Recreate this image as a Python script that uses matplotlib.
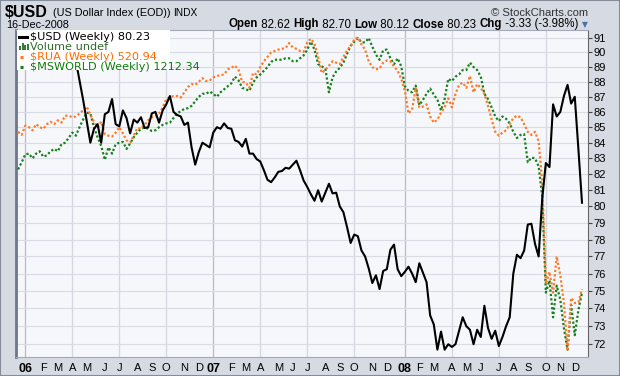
import matplotlib
matplotlib.use("Agg")
import matplotlib.pyplot as plt
import numpy as np
import pandas as pd
from matplotlib.lines import Line2D
from matplotlib.patches import Rectangle
from matplotlib.ticker import FixedLocator, NullLocator, FuncFormatter


FIRST_WEEK = "2005-12-23"

# $USD weekly close (first weeks sit behind the legend)
USD_CLOSE = [
    90.6, 91.0, 89.6, 89.9, 89.4, 89.8, 90.4, 90.9, 90.6, 90.3,
    89.7, 90.3, 89.6, 90.0, 89.6, 89.7, 89.4, 88.1, 86.8, 85.4,
    84.0, 84.9, 85.2, 84.0, 85.85, 86.0, 86.85, 85.2, 85.05, 86.1,
    85.6, 84.6, 85.5, 85.3, 85.65, 84.95, 85.0, 85.9, 86.0, 85.3,
    86.1, 86.5, 87.05, 86.0, 85.8, 85.7, 85.15, 85.3, 83.7, 82.6,
    83.4, 84.0, 83.85, 83.7, 84.65, 85.0, 84.9, 85.25, 84.95, 84.9,
    84.15, 84.05, 83.75, 84.25, 83.3, 83.3, 82.95, 82.8, 82.25, 81.65,
    81.5, 81.8, 82.15, 82.2, 82.4, 82.35, 82.6, 82.85, 82.25, 81.6,
    81.2, 80.75, 80.35, 81.0, 80.3, 80.85, 81.4, 80.8, 80.85, 80.0,
    79.65, 78.75, 77.8, 78.3, 78.2, 77.35, 77.0, 76.3, 75.45, 75.9,
    75.1, 76.15, 76.25, 77.4, 77.7, 76.25, 75.85, 76.1, 76.4, 76.0,
    75.5, 76.6, 76.05, 75.5, 73.6, 73.1, 71.7, 72.7, 71.7, 72.0,
    71.85, 72.0, 72.75, 73.5, 73.0, 72.8, 72.0, 72.8, 72.4, 74.15,
    72.9, 72.3, 72.75, 71.9, 72.4, 73.0, 73.5, 76.0, 77.1, 76.9,
    77.35, 78.9, 78.95, 77.75, 77.0, 80.5, 82.7, 82.45, 86.5, 85.7,
    86.0, 87.05, 87.8, 86.55, 87.0, 83.6, 80.23,
]

RUA_SCALED = [
    84.7, 84.5, 85.1, 85.0, 84.8, 85.2, 85.0, 84.9, 85.2, 85.35,
    85.2, 85.45, 85.3, 85.75, 85.75, 85.65, 85.7, 85.9, 86.1, 86.35,
    85.8, 85.35, 85.0, 85.35, 84.55, 84.45, 84.4, 84.65, 85.0, 84.6,
    84.15, 84.0, 84.45, 84.95, 84.9, 85.15, 85.45, 85.65, 85.7, 85.9,
    86.3, 86.85, 86.95, 87.05, 87.05, 86.95, 87.3, 87.65, 87.85, 87.8,
    88.0, 88.25, 88.05, 88.1, 88.3, 88.4, 88.45, 88.5, 88.85, 88.95,
    89.1, 88.8, 88.0, 87.95, 87.6, 88.6, 88.5, 89.0, 89.4, 89.7,
    90.0, 90.1, 90.2, 90.25, 90.3, 90.65, 90.35, 90.25, 90.1, 90.05,
    90.7, 90.95, 90.6, 89.7, 88.6, 88.8, 89.1, 89.4, 89.3, 89.2,
    89.7, 90.15, 90.45, 90.9, 91.05, 90.55, 90.2, 89.4, 89.0, 88.85,
    88.9, 89.3, 89.45, 89.4, 89.05, 88.75, 88.2, 87.4, 85.9, 86.15,
    87.6, 86.3, 86.35, 86.5, 85.7, 85.3, 85.5, 85.95, 86.3, 86.9,
    86.3, 87.2, 87.8, 87.95, 87.6, 88.4, 87.3, 87.85, 87.6, 87.2,
    86.4, 85.5, 84.7, 84.45, 84.65, 84.8, 85.2, 85.6, 85.75, 85.65,
    85.2, 84.7, 84.5, 84.7, 84.1, 81.5, 75.4, 76.1, 74.9, 77.0,
    75.9, 74.3, 71.65, 74.6, 74.3, 74.35, 75.1,
]

MSWORLD_SCALED = [
    82.3, 82.75, 83.25, 83.3, 83.0, 83.3, 83.45, 83.1, 83.2, 83.45,
    83.6, 83.45, 83.9, 84.0, 84.3, 84.65, 84.45, 85.0, 85.5, 85.95,
    85.9, 85.0, 84.35, 83.8, 82.9, 83.7, 83.3, 83.9, 84.0, 84.05,
    83.6, 83.95, 84.35, 84.65, 84.9, 85.0, 84.9, 84.75, 84.8, 85.0,
    85.15, 85.25, 85.3, 85.6, 85.9, 86.05, 86.2, 86.25, 86.4, 86.7,
    87.0, 87.2, 87.2, 87.35, 87.2, 87.0, 87.3, 87.5, 87.7, 87.9,
    88.35, 88.1, 87.6, 87.5, 87.4, 87.95, 88.3, 88.5, 88.75, 89.0,
    89.35, 89.5, 89.5, 89.5, 89.6, 89.6, 89.4, 89.4, 89.6, 89.8,
    90.2, 90.75, 90.2, 89.2, 89.05, 88.9, 87.3, 88.3, 88.7, 88.95,
    89.3, 89.9, 90.45, 90.75, 91.0, 90.7, 90.7, 91.0, 90.4, 89.85,
    89.5, 90.15, 90.2, 89.6, 89.2, 89.6, 89.05, 87.7, 87.4, 87.3,
    87.75, 86.45, 86.8, 87.2, 87.55, 87.15, 86.8, 86.1, 86.85, 88.2,
    88.05, 88.35, 88.5, 88.8, 88.8, 89.3, 89.0, 88.8, 88.35, 87.2,
    86.85, 86.3, 85.7, 85.4, 85.7, 85.55, 85.25, 84.7, 84.3, 84.5,
    84.55, 82.75, 83.05, 83.0, 82.5, 80.6, 74.9, 75.6, 73.5, 75.3,
    74.5, 72.9, 71.7, 74.2, 72.5, 73.9, 74.9,
]

Y_TICKS = list(range(72, 92))
MONTH_LETTERS = ["J", "F", "M", "A", "M", "J", "J", "A", "S", "O", "N", "D"]

LEGEND_ROWS = [
    ("$USD (Weekly) 80.23", "#000000"),
    ("Volume undef", "#2f6b2f"),
    ("$RUA (Weekly) 520.94", "#ff6a00"),
    ("$MSWORLD (Weekly) 1212.34", "#0c7a0c"),
]
QUOTE_PARTS = [
    ("Open", True), (" 82.62 ", False), ("High", True), (" 82.70 ", False),
    ("Low", True), (" 80.12 ", False), ("Close", True), (" 80.23 ", False),
    ("Chg", True), (" -3.33 (-3.98%)", False),
]

W, H = 620, 376
USD_COLOR = "#000000"
RUA_COLOR = "#ff7a26"
MSW_COLOR = "#17801a"
SANS = "Liberation Sans"


def fx(px):
    return px / W


def fy(py):
    return 1 - py / H


def month_starts(weeks):
    # first week whose Monday falls in the month
    mondays = weeks - pd.Timedelta(days=4)
    df = pd.DataFrame({"i": np.arange(len(weeks)), "y": mondays.year, "m": mondays.month})
    df = df[df["y"] >= 2006]
    return df.groupby(["y", "m"])["i"].min().reset_index()


def add_quote_line(fig, right_px, base_px):
    pieces = [fig.text(0, fy(base_px), text, fontsize=8.3, family=SANS, va="baseline",
                       fontweight="bold" if bold else "normal")
              for text, bold in QUOTE_PARTS]
    fig.canvas.draw()
    renderer = fig.canvas.get_renderer()
    widths = [t.get_window_extent(renderer).width for t in pieces]
    cur = right_px - sum(widths)
    for t, w in zip(pieces, widths):
        t.set_x(fx(cur))
        cur += w


def main():
    weeks = pd.date_range(FIRST_WEEK, periods=len(USD_CLOSE), freq="W-FRI")
    x = np.arange(len(weeks))

    fig = plt.figure(figsize=(W / 100, H / 100), dpi=100, facecolor="#d5dae3")
    fig.add_artist(Rectangle((0, 0), 1, 1, transform=fig.transFigure, facecolor="none",
                             edgecolor="#858c99", lw=1.5, zorder=0))

    ax = fig.add_axes([fx(16), fy(357), (588 - 16) / W, (357 - 30) / H])
    ax.set_facecolor("#f5f7fb")

    ax.plot(x, MSWORLD_SCALED, color=MSW_COLOR, lw=1.6, ls=(0, (1, 1)), zorder=3)
    ax.plot(x, RUA_SCALED, color=RUA_COLOR, lw=1.6, ls=(0, (1, 1)), zorder=3)
    ax.plot(x, USD_CLOSE, color=USD_COLOR, lw=1.5, zorder=4)

    ax.set_yscale("log")
    ax.set_ylim(71.3, 91.56)
    ax.set_xlim(-0.57, 157.66)

    ax.yaxis.set_major_locator(FixedLocator(Y_TICKS))
    ax.yaxis.set_minor_locator(NullLocator())
    ax.yaxis.set_major_formatter(FuncFormatter(lambda v, p: f"{v:.0f}"))
    ax.yaxis.tick_right()
    ax.tick_params(axis="y", length=3, width=0.8, color="#444444", pad=1, labelsize=8)
    ax.yaxis.grid(True, color="#d9dce4", lw=0.8)

    starts = month_starts(weeks)
    labels = []
    for _, row in starts.iterrows():
        if row["m"] == 1:
            labels.append(f"{row['y'] % 100:02d}")
        else:
            labels.append(MONTH_LETTERS[row["m"] - 1])
        if row["m"] in (1, 4, 7, 10):
            col = "#b7bbc4" if row["m"] == 1 else "#d4d7df"
            ax.axvline(row["i"], color=col, lw=0.9, zorder=1)
    ax.set_xticks(starts["i"].to_numpy())
    ax.set_xticklabels(labels)
    ax.tick_params(axis="x", length=0, pad=4, labelsize=8)
    for lbl, m in zip(ax.get_xticklabels(), starts["m"]):
        lbl.set_family(SANS)
        if m == 1:
            lbl.set_fontweight("bold")
            lbl.set_fontsize(9)
    for lbl in ax.get_yticklabels():
        lbl.set_family(SANS)

    for side in ("top", "bottom"):
        ax.spines[side].set_color("#a3a9b5")
        ax.spines[side].set_linewidth(0.8)
    ax.spines["left"].set_color("#6f7788")
    ax.spines["left"].set_linewidth(2.0)
    ax.spines["right"].set_color("#666666")
    ax.spines["right"].set_linestyle((0, (1, 1)))
    ax.spines["right"].set_linewidth(0.8)

    # legend block drawn in pixel positions
    fig.add_artist(Rectangle((fx(16.5), fy(70)), (170 - 16.5) / W, 39.5 / H,
                             transform=fig.transFigure, facecolor="white",
                             edgecolor="none", zorder=5))
    row_y = [36.5, 46.5, 56.5, 66.5]
    for (label, col), yy in zip(LEGEND_ROWS, row_y):
        fig.text(fx(30.5), fy(yy), label, color=col, fontsize=8.1, va="center",
                 family="DejaVu Sans", zorder=7)
    fig.add_artist(Line2D([fx(19.5), fx(27)], [fy(36.5)] * 2, color=USD_COLOR, lw=2.2, zorder=6))
    for k, hgt in enumerate([4, 7, 5, 6]):
        bx = 19.5 + k * 2.5
        fig.add_artist(Rectangle((fx(bx), fy(50)), 1.8 / W, hgt / H, transform=fig.transFigure,
                                 facecolor="#3a7a3a", edgecolor="none", zorder=6))
    fig.add_artist(Line2D([fx(20), fx(26)], [fy(56.5)] * 2, color=RUA_COLOR, lw=2.2,
                          ls=(0, (1, 1.4)), zorder=6))
    fig.add_artist(Line2D([fx(20), fx(26)], [fy(66.5)] * 2, color=MSW_COLOR, lw=2.2,
                          ls=(0, (1, 1.4)), zorder=6))

    # header
    fig.text(fx(5), fy(17), "$USD", fontsize=11.5, fontweight="bold", family=SANS, va="baseline")
    fig.text(fx(53), fy(16.5), "(US Dollar Index (EOD))", fontsize=7.8, family=SANS, va="baseline")
    fig.text(fx(173), fy(16.5), "INDX", fontsize=7.3, family=SANS, va="baseline")
    fig.text(fx(588), fy(15.5), "\u00a9 StockCharts.com", fontsize=8.1, family=SANS,
             color="#333333", ha="right", va="baseline")
    fig.text(fx(6), fy(27.5), "16-Dec-2008", fontsize=7.8, family=SANS, va="baseline")
    add_quote_line(fig, 578, 27.5)
    fig.text(fx(585), fy(27), "\u25bc", fontsize=5.5, color="#4b6fa8", ha="center",
             va="baseline", family="DejaVu Sans")

    fig.savefig("out.png", dpi=100, facecolor=fig.get_facecolor())
    plt.close(fig)


if __name__ == "__main__":
    main()
